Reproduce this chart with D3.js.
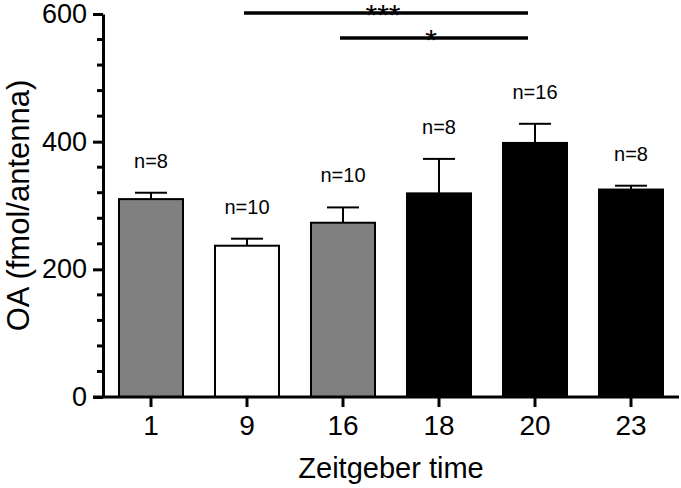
<!DOCTYPE html>
<html>
<head>
<meta charset="utf-8">
<script src="https://cdn.jsdelivr.net/npm/d3@7"></script>
<style>
  html, body { margin: 0; padding: 0; background: #fff; }
  svg { display: block; }
  text { font-family: "Liberation Sans", Arial, sans-serif; fill: #000; }
</style>
</head>
<body>
<svg id="chart" width="681" height="488"></svg>
<script>
const categories = ["1", "9", "16", "18", "20", "23"];
const means = [310, 237, 273, 319, 398, 325];
const errors = [10, 11, 24, 54, 30, 6];
const nLabels = ["n=8", "n=10", "n=10", "n=8", "n=16", "n=8"];
const barColors = ["#808080", "#ffffff", "#808080", "#000000", "#000000", "#000000"];
const yMajorTicks = [0, 200, 400, 600];
const yMinorTicks = [40, 80, 120, 160, 240, 280, 320, 360, 440, 480, 520, 560];
const sigFrom = ["9", "16"];
const sigTo = ["20", "20"];
const sigLabels = ["***", "*"];
const sigLevels = [0, 1];

(function () {
const svg = d3.select("#chart");
const mLeft = 103, mRight = 679, mTop = 14, mBottom = 397;

const x = d3.scaleBand().domain(categories).range([mLeft, mRight])
  .paddingInner(1/3).paddingOuter(1/6);
const y = d3.scaleLinear().domain([0, 600]).range([mBottom, mTop]);
const bw = x.bandwidth();

// bars
svg.append("g").selectAll("rect").data(categories).join("rect")
  .attr("x", d => x(d))
  .attr("y", (d, i) => y(means[i]))
  .attr("width", bw)
  .attr("height", (d, i) => y(0) - y(means[i]))
  .attr("fill", (d, i) => barColors[i])
  .attr("stroke", "#000")
  .attr("stroke-width", 2);

// error bars
const eg = svg.append("g").attr("stroke", "#000").attr("stroke-width", 2);
categories.forEach((c, i) => {
  const cx = x(c) + bw / 2;
  eg.append("line").attr("x1", cx).attr("x2", cx)
    .attr("y1", y(means[i])).attr("y2", y(means[i] + errors[i]));
  eg.append("line").attr("x1", cx - bw / 4).attr("x2", cx + bw / 4)
    .attr("y1", y(means[i] + errors[i])).attr("y2", y(means[i] + errors[i]));
});

// n labels
svg.append("g").selectAll("text").data(categories).join("text")
  .attr("x", d => x(d) + bw / 2)
  .attr("y", (d, i) => y(means[i] + errors[i]) - 25)
  .attr("text-anchor", "middle")
  .style("font-size", "20px")
  .text((d, i) => nLabels[i]);

// y axis
const yAxis = svg.append("g").attr("transform", `translate(${mLeft},0)`)
  .call(d3.axisLeft(y).tickValues(yMajorTicks).tickSize(10).tickSizeOuter(0).tickPadding(6));
yAxis.select(".domain").attr("stroke-width", 3);
yAxis.selectAll(".tick line").attr("stroke-width", 3);
yAxis.selectAll(".tick text").style("font-size", "27px").attr("font-family", null);
yAxis.append("g").selectAll("line").data(yMinorTicks).join("line")
  .attr("x1", -6).attr("x2", 0)
  .attr("y1", d => y(d)).attr("y2", d => y(d))
  .attr("stroke", "#000").attr("stroke-width", 3);

// x axis
const xAxis = svg.append("g").attr("transform", `translate(0,${mBottom})`)
  .call(d3.axisBottom(x).tickSize(10).tickSizeOuter(0).tickPadding(8));
xAxis.select(".domain").attr("stroke-width", 3).attr("d", `M${mLeft - 10},0H${mRight}`);
xAxis.selectAll(".tick line").attr("stroke-width", 3);
xAxis.selectAll(".tick text").style("font-size", "28px").attr("font-family", null);

// axis titles
svg.append("text")
  .attr("x", (mLeft + mRight) / 2).attr("y", 478)
  .attr("text-anchor", "middle")
  .style("font-size", "29px")
  .text("Zeitgeber time");
svg.append("text")
  .attr("transform", `translate(29,${(mTop + mBottom) / 2}) rotate(-90)`)
  .attr("text-anchor", "middle")
  .style("font-size", "31px")
  .text("OA (fmol/antenna)");

// significance lines
const sg = svg.append("g");
sigLabels.forEach((lab, i) => {
  const x1 = x(sigFrom[i]) + bw / 2 - 3;
  const x2 = x(sigTo[i]) + bw / 2 - 7;
  const ly = 13 + sigLevels[i] * 25;
  sg.append("line").attr("x1", x1).attr("x2", x2).attr("y1", ly).attr("y2", ly)
    .attr("stroke", "#000").attr("stroke-width", 3.5);
  sg.append("text").attr("x", (x1 + x2) / 2 - 3).attr("y", ly + 12)
    .attr("text-anchor", "middle").style("font-size", "30px").text(lab);
});
})();
</script>
</body>
</html>
